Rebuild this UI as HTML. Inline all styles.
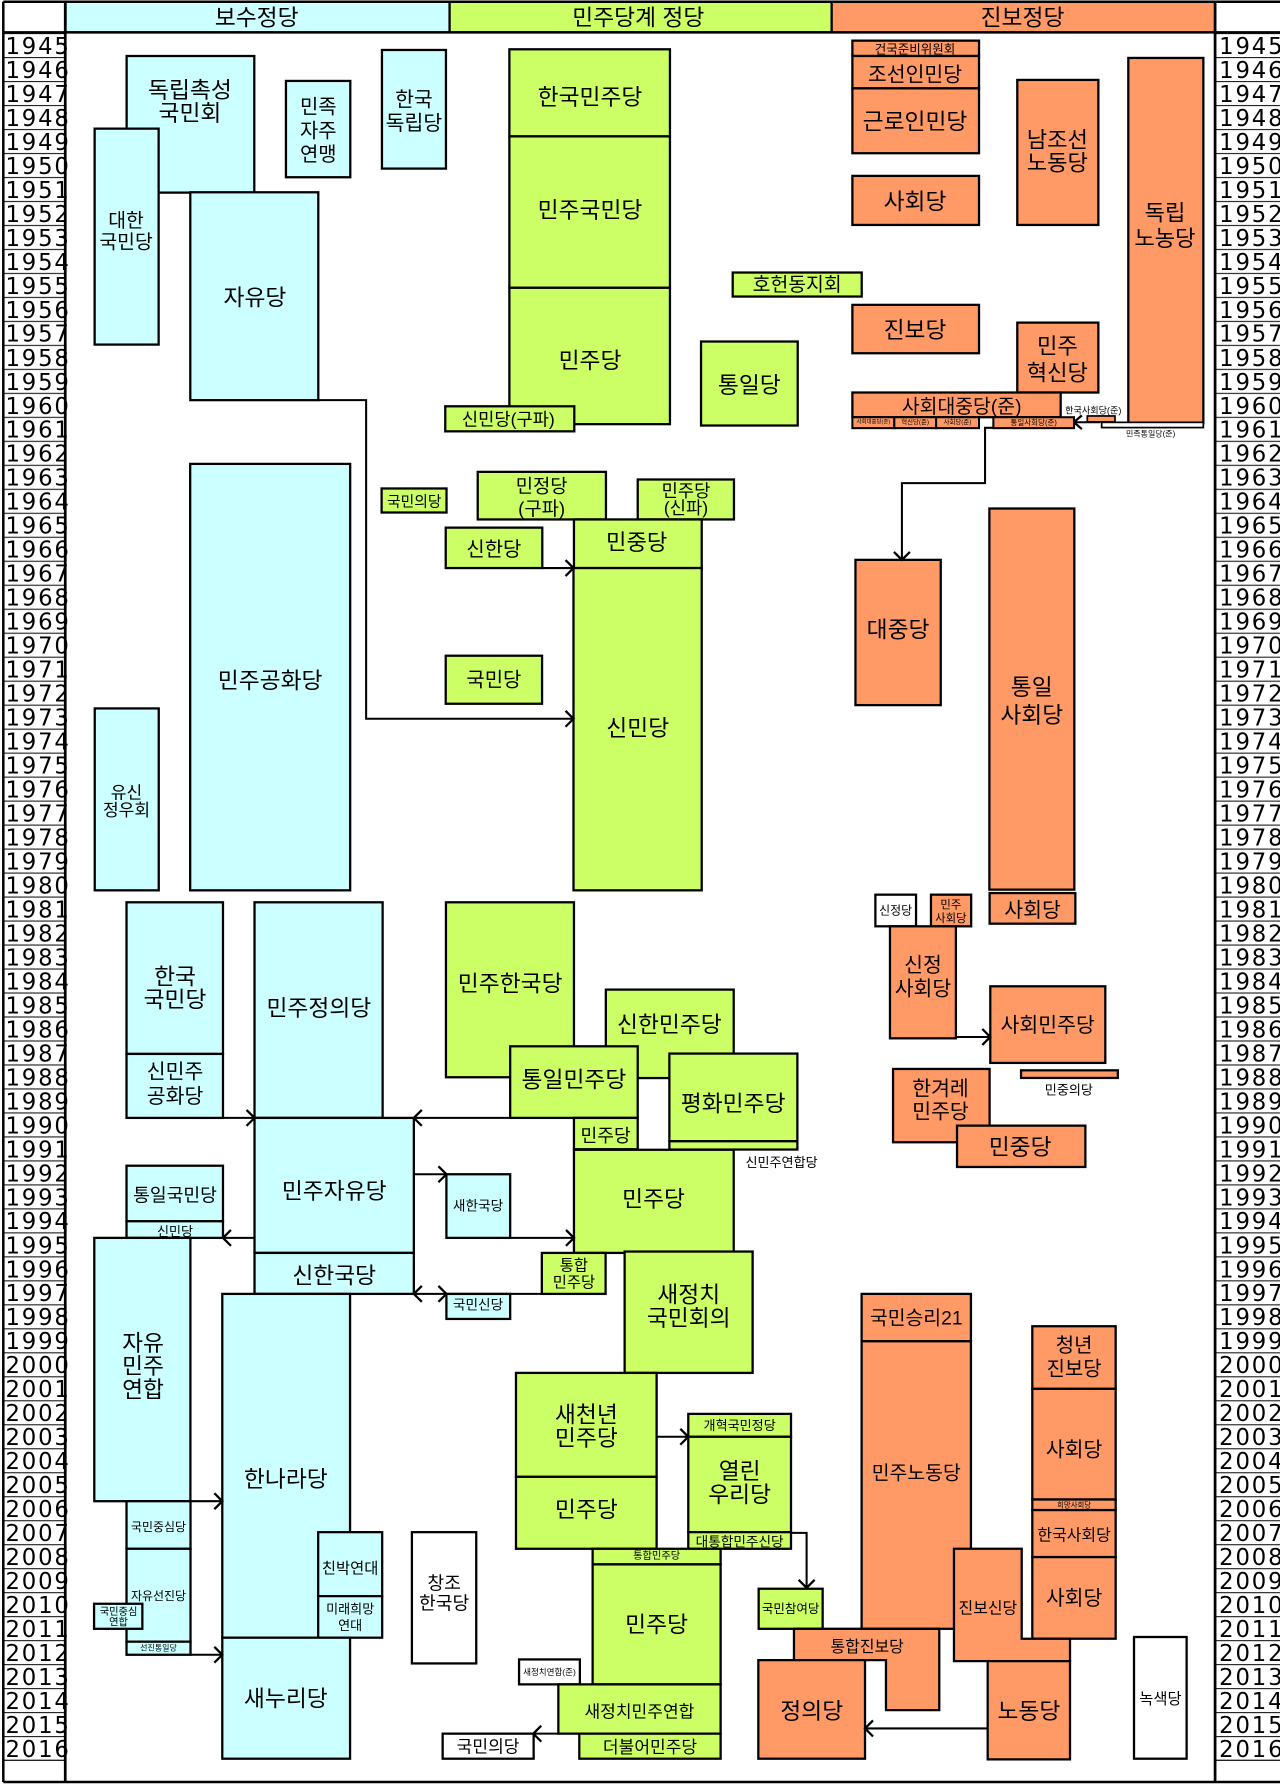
<!DOCTYPE html>
<html><head><meta charset="utf-8"><style>
html,body{margin:0;padding:0;background:#fff}
svg{display:block}
.b{stroke:#000;stroke-width:2}
.c{fill:#ccffff}.g{fill:#ccff66}.o{fill:#ff9966}.w{fill:#fff}
.ln{stroke:#000;stroke-width:1.8;fill:none}
.ah{stroke:#000;stroke-width:2;fill:none}
.l{font-family:"Liberation Sans","Noto Sans CJK KR",sans-serif;text-anchor:middle;dominant-baseline:central;fill:#000}
.y{font-family:"DejaVu Sans","Liberation Sans",sans-serif;font-size:20px;letter-spacing:1.6px;fill:#000}
</style></head><body>
<svg xmlns="http://www.w3.org/2000/svg" width="1280" height="1785" viewBox="0 0 1124 1568" preserveAspectRatio="none">
<defs><pattern id="rows" patternUnits="userSpaceOnUse" x="0" y="29" width="1124" height="21.07"><rect x="0" y="0" width="1124" height="1" fill="#222"/></pattern></defs>
<rect x="0" y="0" width="1124" height="1568" fill="#fff"/>
<!-- header -->
<rect x="57.5" y="1.5" width="337.3" height="26.9" class="c b"/>
<rect x="394.8" y="1.5" width="335.5" height="26.9" class="g b"/>
<rect x="730.3" y="1.5" width="336.7" height="26.9" class="o b"/>
<text class="l" x="225.4" y="15.4" font-size="20">보수정당</text>
<text class="l" x="560.5" y="15.4" font-size="20">민주당계 정당</text>
<text class="l" x="897.9" y="15.4" font-size="20">진보정당</text>
<!-- year rows -->
<rect x="2.9" y="29" width="54.4" height="1518" fill="url(#rows)"/>
<rect x="1067" y="29" width="57" height="1518" fill="url(#rows)"/>
<g class="y">
<text x="4.8" y="47.4">1945</text><text x="4.8" y="68.5">1946</text><text x="4.8" y="89.5">1947</text><text x="4.8" y="110.6">1948</text><text x="4.8" y="131.7">1949</text><text x="4.8" y="152.8">1950</text><text x="4.8" y="173.8">1951</text><text x="4.8" y="194.9">1952</text><text x="4.8" y="216.0">1953</text><text x="4.8" y="237.0">1954</text><text x="4.8" y="258.1">1955</text><text x="4.8" y="279.2">1956</text><text x="4.8" y="300.2">1957</text><text x="4.8" y="321.3">1958</text><text x="4.8" y="342.4">1959</text><text x="4.8" y="363.5">1960</text><text x="4.8" y="384.5">1961</text><text x="4.8" y="405.6">1962</text><text x="4.8" y="426.7">1963</text><text x="4.8" y="447.7">1964</text><text x="4.8" y="468.8">1965</text><text x="4.8" y="489.9">1966</text><text x="4.8" y="510.9">1967</text><text x="4.8" y="532.0">1968</text><text x="4.8" y="553.1">1969</text><text x="4.8" y="574.2">1970</text><text x="4.8" y="595.2">1971</text><text x="4.8" y="616.3">1972</text><text x="4.8" y="637.4">1973</text><text x="4.8" y="658.4">1974</text><text x="4.8" y="679.5">1975</text><text x="4.8" y="700.6">1976</text><text x="4.8" y="721.6">1977</text><text x="4.8" y="742.7">1978</text><text x="4.8" y="763.8">1979</text><text x="4.8" y="784.9">1980</text><text x="4.8" y="805.9">1981</text><text x="4.8" y="827.0">1982</text><text x="4.8" y="848.1">1983</text><text x="4.8" y="869.1">1984</text><text x="4.8" y="890.2">1985</text><text x="4.8" y="911.3">1986</text><text x="4.8" y="932.3">1987</text><text x="4.8" y="953.4">1988</text><text x="4.8" y="974.5">1989</text><text x="4.8" y="995.6">1990</text><text x="4.8" y="1016.6">1991</text><text x="4.8" y="1037.7">1992</text><text x="4.8" y="1058.8">1993</text><text x="4.8" y="1079.8">1994</text><text x="4.8" y="1100.9">1995</text><text x="4.8" y="1122.0">1996</text><text x="4.8" y="1143.0">1997</text><text x="4.8" y="1164.1">1998</text><text x="4.8" y="1185.2">1999</text><text x="4.8" y="1206.3">2000</text><text x="4.8" y="1227.3">2001</text><text x="4.8" y="1248.4">2002</text><text x="4.8" y="1269.5">2003</text><text x="4.8" y="1290.5">2004</text><text x="4.8" y="1311.6">2005</text><text x="4.8" y="1332.7">2006</text><text x="4.8" y="1353.7">2007</text><text x="4.8" y="1374.8">2008</text><text x="4.8" y="1395.9">2009</text><text x="4.8" y="1417.0">2010</text><text x="4.8" y="1438.0">2011</text><text x="4.8" y="1459.1">2012</text><text x="4.8" y="1480.2">2013</text><text x="4.8" y="1501.2">2014</text><text x="4.8" y="1522.3">2015</text><text x="4.8" y="1543.4">2016</text>
<text x="1070.6" y="47.4">1945</text><text x="1070.6" y="68.5">1946</text><text x="1070.6" y="89.5">1947</text><text x="1070.6" y="110.6">1948</text><text x="1070.6" y="131.7">1949</text><text x="1070.6" y="152.8">1950</text><text x="1070.6" y="173.8">1951</text><text x="1070.6" y="194.9">1952</text><text x="1070.6" y="216.0">1953</text><text x="1070.6" y="237.0">1954</text><text x="1070.6" y="258.1">1955</text><text x="1070.6" y="279.2">1956</text><text x="1070.6" y="300.2">1957</text><text x="1070.6" y="321.3">1958</text><text x="1070.6" y="342.4">1959</text><text x="1070.6" y="363.5">1960</text><text x="1070.6" y="384.5">1961</text><text x="1070.6" y="405.6">1962</text><text x="1070.6" y="426.7">1963</text><text x="1070.6" y="447.7">1964</text><text x="1070.6" y="468.8">1965</text><text x="1070.6" y="489.9">1966</text><text x="1070.6" y="510.9">1967</text><text x="1070.6" y="532.0">1968</text><text x="1070.6" y="553.1">1969</text><text x="1070.6" y="574.2">1970</text><text x="1070.6" y="595.2">1971</text><text x="1070.6" y="616.3">1972</text><text x="1070.6" y="637.4">1973</text><text x="1070.6" y="658.4">1974</text><text x="1070.6" y="679.5">1975</text><text x="1070.6" y="700.6">1976</text><text x="1070.6" y="721.6">1977</text><text x="1070.6" y="742.7">1978</text><text x="1070.6" y="763.8">1979</text><text x="1070.6" y="784.9">1980</text><text x="1070.6" y="805.9">1981</text><text x="1070.6" y="827.0">1982</text><text x="1070.6" y="848.1">1983</text><text x="1070.6" y="869.1">1984</text><text x="1070.6" y="890.2">1985</text><text x="1070.6" y="911.3">1986</text><text x="1070.6" y="932.3">1987</text><text x="1070.6" y="953.4">1988</text><text x="1070.6" y="974.5">1989</text><text x="1070.6" y="995.6">1990</text><text x="1070.6" y="1016.6">1991</text><text x="1070.6" y="1037.7">1992</text><text x="1070.6" y="1058.8">1993</text><text x="1070.6" y="1079.8">1994</text><text x="1070.6" y="1100.9">1995</text><text x="1070.6" y="1122.0">1996</text><text x="1070.6" y="1143.0">1997</text><text x="1070.6" y="1164.1">1998</text><text x="1070.6" y="1185.2">1999</text><text x="1070.6" y="1206.3">2000</text><text x="1070.6" y="1227.3">2001</text><text x="1070.6" y="1248.4">2002</text><text x="1070.6" y="1269.5">2003</text><text x="1070.6" y="1290.5">2004</text><text x="1070.6" y="1311.6">2005</text><text x="1070.6" y="1332.7">2006</text><text x="1070.6" y="1353.7">2007</text><text x="1070.6" y="1374.8">2008</text><text x="1070.6" y="1395.9">2009</text><text x="1070.6" y="1417.0">2010</text><text x="1070.6" y="1438.0">2011</text><text x="1070.6" y="1459.1">2012</text><text x="1070.6" y="1480.2">2013</text><text x="1070.6" y="1501.2">2014</text><text x="1070.6" y="1522.3">2015</text><text x="1070.6" y="1543.4">2016</text>
</g>
<line x1="2.9" y1="1546.2" x2="57.3" y2="1546.2" stroke="#222" stroke-width="1"/>
<line x1="1067" y1="1546.2" x2="1124" y2="1546.2" stroke="#222" stroke-width="1"/>
<!-- frame -->
<line x1="2.9" y1="1.5" x2="1124" y2="1.5" stroke="#000" stroke-width="2.2"/>
<line x1="2.9" y1="28.4" x2="1124" y2="28.4" stroke="#000" stroke-width="2.2"/>
<line x1="2.9" y1="1.5" x2="2.9" y2="1565.4" stroke="#000" stroke-width="2.2"/>
<line x1="57.3" y1="1.5" x2="57.3" y2="1565.4" stroke="#000" stroke-width="2.4"/>
<line x1="1067" y1="1.5" x2="1067" y2="1565.4" stroke="#000" stroke-width="2.4"/>
<line x1="2.9" y1="1565.4" x2="1124" y2="1565.4" stroke="#000" stroke-width="2.2"/>

<!-- connectors -->
<polyline class="ln" points="279.5,351.5 321.5,351.5 321.5,631.4 503.6,631.4"/>
<line class="ln" x1="476" y1="499" x2="503.6" y2="499"/>
<polyline class="ln" points="875,375.8 865,375.8 865,424.4 792,424.4 792,491.8"/>
<line class="ln" x1="943" y1="370.9" x2="966" y2="370.9"/>
<line class="ln" x1="839.4" y1="910.9" x2="869.6" y2="910.9"/>
<line class="ln" x1="195.8" y1="982" x2="223.5" y2="982"/>
<line class="ln" x1="363.4" y1="982" x2="448" y2="982"/>
<line class="ln" x1="363.4" y1="1031.5" x2="392" y2="1031.5"/>
<line class="ln" x1="448" y1="1087.4" x2="504" y2="1087.4"/>
<line class="ln" x1="195.8" y1="1087.4" x2="223.5" y2="1087.4"/>
<line class="ln" x1="363.4" y1="1136.6" x2="531.8" y2="1136.6"/>
<line class="ln" x1="167.3" y1="1318.7" x2="195.2" y2="1318.7"/>
<line class="ln" x1="167.3" y1="1453.6" x2="195.2" y2="1453.6"/>
<line class="ln" x1="576.6" y1="1262.1" x2="604.4" y2="1262.1"/>
<polyline class="ln" points="694.6,1346.5 708.3,1346.5 708.3,1394.8"/>
<line class="ln" x1="468.3" y1="1522.9" x2="490.3" y2="1522.9"/>
<line class="ln" x1="759.6" y1="1518.3" x2="867.3" y2="1518.3"/>

<!-- conservative boxes -->
<rect class="c b" x="111.2" y="49.2" width="112.1" height="120"/>
<rect class="c b" x="83.1" y="113" width="56.2" height="189.7"/>
<rect class="c b" x="251.1" y="71.1" width="56.5" height="84.6"/>
<rect class="c b" x="335.4" y="43.9" width="56.2" height="104.2"/>
<rect class="c b" x="167.1" y="168.9" width="112.4" height="182.6"/>
<rect class="c b" x="167" y="407.5" width="140.5" height="374.6"/>
<rect class="c b" x="83.2" y="622.3" width="56.2" height="159.8"/>
<rect class="c b" x="111.1" y="792.6" width="84.7" height="133.2"/>
<rect class="c b" x="111.1" y="925.8" width="84.7" height="56.2"/>
<rect class="c b" x="223.5" y="792.6" width="112.5" height="189.4"/>
<rect class="c b" x="223.5" y="982" width="139.9" height="118.6"/>
<rect class="c b" x="223.5" y="1100.6" width="139.9" height="36"/>
<rect class="c b" x="111.1" y="1024" width="84.7" height="48.8"/>
<rect class="c b" x="111.1" y="1072.8" width="84.7" height="14.6"/>
<rect class="c b" x="392" y="1031.5" width="56" height="55.9"/>
<rect class="c b" x="392" y="1136.6" width="56" height="22"/>
<rect class="c b" x="82.8" y="1087.4" width="84.4" height="231.3"/>
<rect class="c b" x="111.1" y="1318.7" width="56.2" height="41.8"/>
<rect class="c b" x="111.1" y="1360.5" width="56.2" height="81.6"/>
<rect class="c b" x="111.1" y="1442.1" width="56.2" height="11.5"/>
<rect class="c b" x="82.6" y="1408.8" width="42.4" height="22"/>
<rect class="c b" x="195.2" y="1136.6" width="112.2" height="302"/>
<rect class="c b" x="279.4" y="1345.9" width="56.2" height="56.2"/>
<rect class="c b" x="279.4" y="1402.1" width="56.2" height="36.5"/>
<rect class="c b" x="195.2" y="1438.6" width="112.2" height="106.3"/>
<!-- white boxes -->
<rect class="w b" x="361.7" y="1345.9" width="56.5" height="115.3"/>
<rect class="w b" x="388.7" y="1522.9" width="79.9" height="22"/>
<rect class="w b" x="455.8" y="1457.7" width="53.4" height="21.9"/>
<rect class="w b" x="768.7" y="785.9" width="35.7" height="27.8"/>
<rect class="w b" x="995.8" y="1438" width="46.2" height="106.9"/>
<!-- democratic boxes -->
<rect class="g b" x="447.3" y="43.3" width="141" height="76.5"/>
<rect class="g b" x="447.3" y="119.8" width="141" height="133"/>
<rect class="g b" x="447.3" y="252.8" width="141" height="119.8"/>
<rect class="g b" x="391" y="356.9" width="113.3" height="22"/>
<rect class="g b" x="615.6" y="300" width="84.9" height="73.8"/>
<rect class="g b" x="643.4" y="239.4" width="113.3" height="21.1"/>
<rect class="g b" x="335.1" y="429.1" width="57" height="21.1"/>
<rect class="g b" x="419.5" y="414.5" width="112.6" height="41.8"/>
<rect class="g b" x="560" y="421.2" width="84.5" height="35.1"/>
<rect class="g b" x="504" y="456.3" width="112.2" height="42.7"/>
<rect class="g b" x="391.4" y="463.5" width="84.8" height="35.5"/>
<rect class="g b" x="503.6" y="499" width="112.6" height="283.1"/>
<rect class="g b" x="391.4" y="576" width="84.6" height="42.2"/>
<rect class="g b" x="391.6" y="792.6" width="112.4" height="153.7"/>
<rect class="g b" x="532" y="869.3" width="112.3" height="77.7"/>
<rect class="g b" x="448" y="919.1" width="112" height="62.9"/>
<rect class="g b" x="587.8" y="925.5" width="112.4" height="77"/>
<rect class="g b" x="587.8" y="1002.5" width="112.4" height="7.3"/>
<rect class="g b" x="504" y="982" width="56" height="27.5"/>
<rect class="g b" x="504" y="1010" width="140.3" height="90.6"/>
<rect class="g b" x="475.8" y="1100.6" width="56" height="36"/>
<rect class="g b" x="548.5" y="1099.4" width="112.4" height="106.6"/>
<rect class="g b" x="453.1" y="1206" width="123.5" height="91.3"/>
<rect class="g b" x="453.1" y="1297.3" width="123.5" height="63.2"/>
<rect class="g b" x="604.4" y="1242" width="90.2" height="20.1"/>
<rect class="g b" x="604.4" y="1262.1" width="90.2" height="83.8"/>
<rect class="g b" x="604.4" y="1345.9" width="90.2" height="14.6"/>
<rect class="g b" x="666.2" y="1395.6" width="56.2" height="35.2"/>
<rect class="g b" x="520.4" y="1360.5" width="112.4" height="13.7"/>
<rect class="g b" x="520.4" y="1374.2" width="112.4" height="105.4"/>
<rect class="g b" x="490.3" y="1479.6" width="142.5" height="43.3"/>
<rect class="g b" x="508.7" y="1522.9" width="124.1" height="22"/>
<!-- progressive boxes -->
<rect class="o b" x="748.5" y="35.7" width="111.2" height="13.5"/>
<rect class="o b" x="748.5" y="49.2" width="111.2" height="28.4"/>
<rect class="o b" x="748.5" y="77.6" width="111.2" height="57"/>
<rect class="o b" x="748.5" y="154.5" width="111.2" height="43.1"/>
<rect class="o b" x="893.3" y="70.2" width="71.2" height="127.4"/>
<rect class="o b" x="990.8" y="50.9" width="65.9" height="320.8"/>
<rect class="w" x="967.4" y="371" width="89.3" height="4.6" stroke="#000" stroke-width="1.5"/>
<rect class="o b" x="748.5" y="267.8" width="111.2" height="42.5"/>
<rect class="o b" x="893.3" y="283.4" width="71.2" height="61.4"/>
<rect class="o b" x="748.5" y="344.8" width="182.9" height="21.7"/>
<rect class="o" x="954.8" y="365.4" width="24.3" height="5.2" stroke="#000" stroke-width="1.5"/>
<rect class="o b" x="751.2" y="491.8" width="74.9" height="127.6"/>
<rect class="o b" x="868.8" y="446.7" width="74.6" height="334.8"/>
<rect class="o b" x="817.5" y="785.9" width="35.3" height="27.8"/>
<rect class="o b" x="869" y="784.5" width="75.3" height="26.9"/>
<rect class="o b" x="781.5" y="813.7" width="57.9" height="98.4"/>
<rect class="o b" x="869.6" y="866.4" width="101" height="67.3"/>
<rect class="o b" x="896.6" y="940.2" width="85" height="6.7"/>
<rect class="o b" x="784.2" y="939" width="84.8" height="64.4"/>
<rect class="o b" x="840.4" y="988.8" width="112.7" height="36.3"/>
<rect class="o b" x="756.6" y="1136.6" width="96" height="41.6"/>
<rect class="o b" x="756.6" y="1178.2" width="96" height="252.6"/>
<rect class="o b" x="906.5" y="1165" width="73.2" height="55"/>
<rect class="o b" x="906.5" y="1220" width="73.2" height="97.2"/>
<rect class="o b" x="906.5" y="1317.2" width="73.2" height="9.3"/>
<rect class="o b" x="906.5" y="1326.5" width="73.2" height="41.3"/>
<rect class="o b" x="906.5" y="1367.8" width="73.2" height="71.7"/>
<polygon class="o b" points="837.7,1360.5 897.2,1360.5 897.2,1439.5 939.6,1439.5 939.6,1459.2 837.7,1459.2"/>
<polygon class="o b" points="697.2,1430.8 824.8,1430.8 824.8,1502.2 778,1502.2 778,1458.3 697.2,1458.3"/>
<rect class="o b" x="665.9" y="1458.3" width="93.7" height="86.6"/>
<rect class="o b" x="867.3" y="1459.2" width="72.3" height="86.3"/>

<!-- arrowheads -->
<g class="ah">
<polyline points="496.6,624.4 503.6,631.4 496.6,638.4"/>
<polyline points="496.6,492 503.6,499 496.6,506"/>
<polyline points="785,484.8 792,491.8 799,484.8"/>
<polyline points="950,364.9 943,370.9 950,376.9"/>
<polyline points="862.6,903.9 869.6,910.9 862.6,917.9"/>
<polyline points="216.5,975 223.5,982 216.5,989"/>
<polyline points="370.4,975 363.4,982 370.4,989"/>
<polyline points="385,1024.5 392,1031.5 385,1038.5"/>
<polyline points="497,1080.4 504,1087.4 497,1094.4"/>
<polyline points="202.8,1080.4 195.8,1087.4 202.8,1094.4"/>
<polyline points="370.4,1129.6 363.4,1136.6 370.4,1143.6"/>
<polyline points="385,1129.6 392,1136.6 385,1143.6"/>
<polyline points="188.2,1311.7 195.2,1318.7 188.2,1325.7"/>
<polyline points="188.2,1446.6 195.2,1453.6 188.2,1460.6"/>
<polyline points="597.4,1255.1 604.4,1262.1 597.4,1269.1"/>
<polyline points="701.3,1387.8 708.3,1394.8 715.3,1387.8"/>
<polyline points="475.3,1515.9 468.3,1522.9 475.3,1529.9"/>
<polyline points="766.6,1511.3 759.6,1518.3 766.6,1525.3"/>
</g>

<!-- labels: conservative -->
<text class="l" x="166.8" y="79" font-size="20">독립촉성</text>
<text class="l" x="166.8" y="99.4" font-size="20">국민회</text>
<text class="l" x="110.7" y="194" font-size="17">대한</text>
<text class="l" x="110.7" y="213" font-size="17">국민당</text>
<text class="l" x="279.5" y="94.3" font-size="17.5">민족</text>
<text class="l" x="279.5" y="115.6" font-size="17.5">자주</text>
<text class="l" x="279.5" y="136.1" font-size="17.5">연맹</text>
<text class="l" x="363.5" y="87.8" font-size="18">한국</text>
<text class="l" x="363.5" y="108.3" font-size="18">독립당</text>
<text class="l" x="223.9" y="261.4" font-size="20">자유당</text>
<text class="l" x="237.2" y="597.7" font-size="20">민주공화당</text>
<text class="l" x="111.1" y="696.6" font-size="15">유신</text>
<text class="l" x="111.1" y="711.9" font-size="15">정우회</text>
<text class="l" x="153.7" y="857.6" font-size="20">한국</text>
<text class="l" x="153.7" y="878.1" font-size="20">국민당</text>
<text class="l" x="153.7" y="941.9" font-size="18">신민주</text>
<text class="l" x="153.7" y="963" font-size="18">공화당</text>
<text class="l" x="280" y="885.4" font-size="20">민주정의당</text>
<text class="l" x="293.5" y="1046.4" font-size="20">민주자유당</text>
<text class="l" x="293.5" y="1120.5" font-size="20">신한국당</text>
<text class="l" x="153.7" y="1050.2" font-size="16">통일국민당</text>
<text class="l" x="153.7" y="1081.6" font-size="11.5">신민당</text>
<text class="l" x="419.8" y="1059.6" font-size="12">새한국당</text>
<text class="l" x="419.8" y="1146.5" font-size="12">국민신당</text>
<text class="l" x="125.6" y="1179.6" font-size="20">자유</text>
<text class="l" x="125.6" y="1200.1" font-size="20">민주</text>
<text class="l" x="125.6" y="1220.6" font-size="20">연합</text>
<text class="l" x="139.2" y="1341.5" font-size="10.5">국민중심당</text>
<text class="l" x="139.2" y="1402.1" font-size="10.5">자유선진당</text>
<text class="l" x="104.1" y="1416.7" font-size="9">국민중심</text>
<text class="l" x="104.1" y="1425.5" font-size="9">연합</text>
<text class="l" x="139.2" y="1447.8" font-size="7">선진통일당</text>
<text class="l" x="251" y="1299" font-size="20">한나라당</text>
<text class="l" x="307.5" y="1378.1" font-size="13.5">친박연대</text>
<text class="l" x="307.5" y="1413.2" font-size="11.5">미래희망</text>
<text class="l" x="307.5" y="1427.8" font-size="11.5">연대</text>
<text class="l" x="251" y="1492.2" font-size="20">새누리당</text>
<text class="l" x="390" y="1391" font-size="16">창조</text>
<text class="l" x="390" y="1408.5" font-size="16">한국당</text>
<text class="l" x="428.6" y="1534.6" font-size="15">국민의당</text>
<text class="l" x="482.5" y="1468.7" font-size="7.5">새정치연합(준)</text>
<text class="l" x="786.5" y="799.8" font-size="10.5">신정당</text>
<text class="l" x="1019" y="1492.8" font-size="13.5">녹색당</text>
<!-- labels: democratic -->
<text class="l" x="518.1" y="85.3" font-size="20">한국민주당</text>
<text class="l" x="518.1" y="184.4" font-size="20">민주국민당</text>
<text class="l" x="518.1" y="316.7" font-size="20">민주당</text>
<text class="l" x="446.4" y="368.5" font-size="15.5">신민당(구파)</text>
<text class="l" x="658" y="338.1" font-size="20">통일당</text>
<text class="l" x="700" y="250.3" font-size="17">호헌동지회</text>
<text class="l" x="363.8" y="441.4" font-size="13">국민의당</text>
<text class="l" x="475.6" y="427.1" font-size="16.5">민정당</text>
<text class="l" x="475.6" y="446.9" font-size="16.5">(구파)</text>
<text class="l" x="602.4" y="431.2" font-size="15.5">민주당</text>
<text class="l" x="602.4" y="446.3" font-size="15.5">(신파)</text>
<text class="l" x="559.1" y="476.7" font-size="19.5">민중당</text>
<text class="l" x="433.7" y="483" font-size="17.5">신한당</text>
<text class="l" x="433.7" y="597.7" font-size="17.5">국민당</text>
<text class="l" x="560" y="639.6" font-size="20">신민당</text>
<text class="l" x="448" y="864.1" font-size="20">민주한국당</text>
<text class="l" x="587.8" y="900" font-size="20">신한민주당</text>
<text class="l" x="504" y="948.4" font-size="20">통일민주당</text>
<text class="l" x="643.8" y="969.4" font-size="20">평화민주당</text>
<text class="l" x="531.8" y="998.1" font-size="16">민주당</text>
<text class="l" x="573.9" y="1053.1" font-size="20">민주당</text>
<text class="l" x="686.3" y="1021" font-size="11.5">신민주연합당</text>
<text class="l" x="504" y="1112.3" font-size="13.5">통합</text>
<text class="l" x="504" y="1127" font-size="13.5">민주당</text>
<text class="l" x="604.8" y="1137.2" font-size="20">새정치</text>
<text class="l" x="604.8" y="1157.6" font-size="20">국민회의</text>
<text class="l" x="514.9" y="1242.5" font-size="20">새천년</text>
<text class="l" x="514.9" y="1263" font-size="20">민주당</text>
<text class="l" x="514.9" y="1326" font-size="20">민주당</text>
<text class="l" x="649.5" y="1252.2" font-size="11.5">개혁국민정당</text>
<text class="l" x="649.5" y="1292.3" font-size="20">열린</text>
<text class="l" x="649.5" y="1312.8" font-size="20">우리당</text>
<text class="l" x="649.5" y="1354.4" font-size="12">대통합민주신당</text>
<text class="l" x="694.3" y="1413.2" font-size="11">국민참여당</text>
<text class="l" x="576.6" y="1367.5" font-size="9">통합민주당</text>
<text class="l" x="576.6" y="1427" font-size="20">민주당</text>
<text class="l" x="561.5" y="1503.9" font-size="15">새정치민주연합</text>
<text class="l" x="570.8" y="1535.2" font-size="15">더불어민주당</text>
<!-- labels: progressive -->
<text class="l" x="803.5" y="43.3" font-size="11">건국준비위원회</text>
<text class="l" x="803.5" y="65.9" font-size="18">조선인민당</text>
<text class="l" x="803.5" y="106.8" font-size="20">근로인민당</text>
<text class="l" x="803.5" y="177.1" font-size="20">사회당</text>
<text class="l" x="928.5" y="122.9" font-size="19.5">남조선</text>
<text class="l" x="928.5" y="143.4" font-size="19.5">노동당</text>
<text class="l" x="1023" y="187.3" font-size="19.5">독립</text>
<text class="l" x="1023" y="209.3" font-size="19.5">노농당</text>
<text class="l" x="803.5" y="289.8" font-size="20">진보당</text>
<text class="l" x="928.5" y="304.4" font-size="19.5">민주</text>
<text class="l" x="928.5" y="327.8" font-size="19.5">혁신당</text>
<text class="l" x="844.5" y="357.5" font-size="17">사회대중당(준)</text>
<text class="l" x="960" y="360.5" font-size="8">한국사회당(준)</text>
<text class="l" x="1010.4" y="381.4" font-size="7">민족통일당(준)</text>
<text class="l" x="788.6" y="553.2" font-size="20">대중당</text>
<text class="l" x="906" y="603.5" font-size="20">통일</text>
<text class="l" x="906" y="627.9" font-size="20">사회당</text>
<text class="l" x="835" y="795.6" font-size="10">민주</text>
<text class="l" x="835" y="807.3" font-size="10">사회당</text>
<text class="l" x="906.7" y="800" font-size="18">사회당</text>
<text class="l" x="810.5" y="848.3" font-size="18">신정</text>
<text class="l" x="810.5" y="868.8" font-size="18">사회당</text>
<text class="l" x="920" y="900.7" font-size="18">사회민주당</text>
<text class="l" x="938.6" y="957.7" font-size="11.5">민중의당</text>
<text class="l" x="825.9" y="956.6" font-size="18">한겨레</text>
<text class="l" x="825.9" y="977" font-size="18">민주당</text>
<text class="l" x="895.8" y="1007.5" font-size="20">민중당</text>
<text class="l" x="804.6" y="1158" font-size="17">국민승리21</text>
<text class="l" x="804.6" y="1294.4" font-size="17">민주노동당</text>
<text class="l" x="943.2" y="1182.5" font-size="17.5">청년</text>
<text class="l" x="943.2" y="1203" font-size="17.5">진보당</text>
<text class="l" x="943.2" y="1273.9" font-size="18">사회당</text>
<text class="l" x="943.2" y="1322" font-size="6.5">희망사회당</text>
<text class="l" x="943.2" y="1349.4" font-size="14">한국사회당</text>
<text class="l" x="943.2" y="1404.1" font-size="18">사회당</text>
<text class="l" x="867.5" y="1413.2" font-size="14">진보신당</text>
<text class="l" x="903.5" y="1503" font-size="20">노동당</text>
<text class="l" x="761.5" y="1447.4" font-size="14">통합진보당</text>
<text class="l" x="712.8" y="1503" font-size="20">정의당</text>

<!-- small sub-boxes under 사회대중당(준) (drawn last to clip label) -->
<rect class="o" x="748.5" y="366.5" width="36.8" height="9.6" stroke="#000" stroke-width="1.8"/>
<rect class="o" x="785.3" y="366.5" width="36.7" height="9.6" stroke="#000" stroke-width="1.8"/>
<rect class="o" x="822" y="366.5" width="37.7" height="9.6" stroke="#000" stroke-width="1.8"/>
<rect class="o" x="872.3" y="366.5" width="70.8" height="9.6" stroke="#000" stroke-width="1.8"/>
<text class="l" x="766.9" y="371.3" font-size="4.8">사회대중당(준)</text>
<text class="l" x="803.6" y="371.3" font-size="5.6">혁신당(준)</text>
<text class="l" x="840.8" y="371.3" font-size="5.6">사회당(준)</text>
<text class="l" x="907.7" y="371.3" font-size="6.6">통일사회당(준)</text>
</svg>
</body></html>
